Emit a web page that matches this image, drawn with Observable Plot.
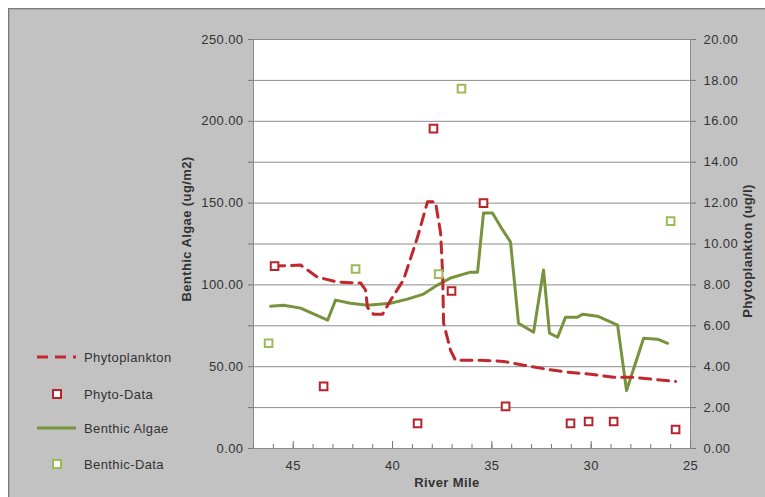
<!DOCTYPE html>
<html><head><meta charset="utf-8">
<script src="https://cdn.jsdelivr.net/npm/d3@7"></script>
<script src="https://cdn.jsdelivr.net/npm/@observablehq/plot@0.6"></script>
<style>
html,body{margin:0;padding:0;background:#ffffff;}
#wrap{position:relative;width:765px;height:497px;overflow:hidden;font-family:"Liberation Sans",Arial,sans-serif;}
#bg{position:absolute;left:8px;top:8px;width:800px;height:600px;background:#c2c2c2;border-left:1px solid #7a7a7a;border-top:1px solid #7a7a7a;box-shadow:inset 1px 1px 0 #a9a9a9;}
#chart{position:absolute;left:0;top:0;}
#legend{position:absolute;left:0;top:0;}
#legend text{font-size:13px;fill:#333;letter-spacing:0.4px;}
</style></head>
<body>
<div id="wrap"><div id="bg"></div><div id="chart"></div>
<svg id="legend" width="220" height="497"></svg>
</div>
<script>
// River mile positions and values
const phytoLineMile = [45.99,44.63,43.78,42.77,41.6,41.36,41.26,40.96,40.5,40.1,39.45,38.74,38.24,37.84,37.58,37.48,37.43,37.08,36.83,36.07,35.57,34.41,33.4,32.2,31.19,30.03,28.87,27.87,26.86,25.75];
const phytoLineVal = [8.92,8.97,8.38,8.14,8.09,7.75,6.9,6.57,6.57,7.25,8.24,10.34,12.06,12.06,10.54,8.58,6.13,4.8,4.31,4.31,4.31,4.26,4.07,3.87,3.73,3.63,3.48,3.48,3.38,3.28];
const benthicLineMile = [46.14,45.49,44.63,43.27,42.87,42.12,41.26,40.1,39.25,38.44,37.74,37.08,36.07,35.72,35.42,34.97,34.46,34.06,33.66,32.9,32.4,32.1,31.69,31.29,30.69,30.43,29.68,28.67,28.22,27.36,26.66,26.15];
const benthicLineVal = [87.0,87.6,85.8,78.4,90.7,88.8,87.6,88.8,91.3,94.4,99.9,104.2,107.8,107.8,144,144,133.6,126.2,76.6,71.1,109.1,70.5,68.0,80.3,80.3,82.1,80.9,75.4,35.5,67.4,66.8,64.3];
const phytoDataMile = [45.94,43.47,38.74,37.94,37.03,35.42,34.31,31.04,30.13,28.87,25.75];
const phytoDataVal = [8.92,3.04,1.23,15.64,7.70,12.0,2.06,1.23,1.32,1.32,0.93];
const benthicDataMile = [46.24,41.86,37.68,36.53,26.0];
const benthicDataVal = [64.3,109.7,106.6,220,139];
const xMajorTicks = [45,40,35,30,25];
const leftLabelTicks = [0,50,100,150,200,250];
const rightLabelTicks = [0,2,4,6,8,10,12,14,16,18,20];
const seriesNames = ["Phytoplankton","Phyto-Data","Benthic Algae","Benthic-Data"];

const RED = "#c0282d", RED_SQ = "#b8232b", GREEN = "#77933c", GREEN_SQ = "#9bbb59";
const k = 250/20; // right axis (0-20) mapped onto left axis (0-250)

const phytoLine = phytoLineMile.map((m,i)=>({mile:m, v:phytoLineVal[i]*k}));
const benthicLine = benthicLineMile.map((m,i)=>({mile:m, v:benthicLineVal[i]}));
const phytoData = phytoDataMile.map((m,i)=>({mile:m, v:phytoDataVal[i]*k}));
const benthicData = benthicDataMile.map((m,i)=>({mile:m, v:benthicDataVal[i]}));
const gridTicks = rightLabelTicks.map(d=>d*k);

const plot = Plot.plot({
  width:765, height:497,
  marginLeft:253, marginRight:75, marginTop:39, marginBottom:49,
  style:{background:"transparent", fontFamily:"'Liberation Sans', Arial, sans-serif", fontSize:"13px", color:"#333", letterSpacing:"0.4px"},
  x:{domain:[47,25]},
  y:{domain:[0,250]},
  marks:[
    Plot.frame({fill:"white"}),
    Plot.gridY(gridTicks.filter(d=>d>0), {stroke:"#8c8c8c", strokeOpacity:1}),
    Plot.frame({stroke:"#8c8c8c"}),
    Plot.axisY(gridTicks, {anchor:"left", tickSize:5, tickFormat:()=>"", label:null, stroke:"#777"}),
    Plot.axisY(leftLabelTicks, {anchor:"left", tickSize:0, tickPadding:10, tickFormat:d=>d.toFixed(2), label:null}),
    Plot.axisY(gridTicks, {anchor:"right", tickSize:5, tickPadding:8, tickFormat:d=>(d/k).toFixed(2), label:null, stroke:"#777"}),
    Plot.axisX(d3.range(25,48), {tickSize:-4, tickFormat:()=>"", label:null, stroke:"#777"}),
    Plot.axisX(xMajorTicks, {tickSize:-7, tickFormat:()=>"", label:null, stroke:"#777"}),
    Plot.axisX(xMajorTicks, {tickSize:0, tickPadding:12, label:null}),
    Plot.line(benthicLine, {x:"mile", y:"v", stroke:GREEN, strokeWidth:3}),
    Plot.line(phytoLine, {x:"mile", y:"v", stroke:RED, strokeWidth:3, strokeDasharray:"11,7"}),
    Plot.dot(phytoData, {x:"mile", y:"v", symbol:"square", r:4.3, stroke:RED_SQ, strokeWidth:2, fill:"white"}),
    Plot.dot(benthicData, {x:"mile", y:"v", symbol:"square", r:4.3, stroke:GREEN_SQ, strokeWidth:2, fill:"white"}),
    Plot.text(["Benthic Algae (ug/m2)"], {frameAnchor:"left", dx:-67, dy:-15, rotate:-90, textAnchor:"middle", lineAnchor:"middle", fontWeight:"bold", fill:"#333"}),
    Plot.text(["Phytoplankton (ug/l)"], {frameAnchor:"right", dx:57, dy:7, rotate:-90, textAnchor:"middle", lineAnchor:"middle", fontWeight:"bold", fill:"#333"}),
    Plot.text(["River Mile"], {frameAnchor:"bottom", dx:-25, dy:34, textAnchor:"middle", lineAnchor:"middle", fontWeight:"bold", fill:"#333"})
  ]
});
document.getElementById("chart").appendChild(plot);

// Legend
const lg = d3.select("#legend");
const rows = [357, 394, 428, 464];
lg.append("line").attr("x1",37).attr("x2",76).attr("y1",rows[0]).attr("y2",rows[0]).attr("stroke",RED).attr("stroke-width",3).attr("stroke-dasharray","11,7");
lg.append("rect").attr("x",53).attr("y",rows[1]-4).attr("width",8).attr("height",8).attr("fill","white").attr("stroke",RED_SQ).attr("stroke-width",2);
lg.append("line").attr("x1",37).attr("x2",76).attr("y1",rows[2]).attr("y2",rows[2]).attr("stroke",GREEN).attr("stroke-width",3);
lg.append("rect").attr("x",53).attr("y",rows[3]-4).attr("width",8).attr("height",8).attr("fill","white").attr("stroke",GREEN_SQ).attr("stroke-width",2);
seriesNames.forEach((n,i)=>{
  lg.append("text").attr("x",84).attr("y",rows[i]).attr("dy","0.35em").text(n);
});
</script>
</body></html>
